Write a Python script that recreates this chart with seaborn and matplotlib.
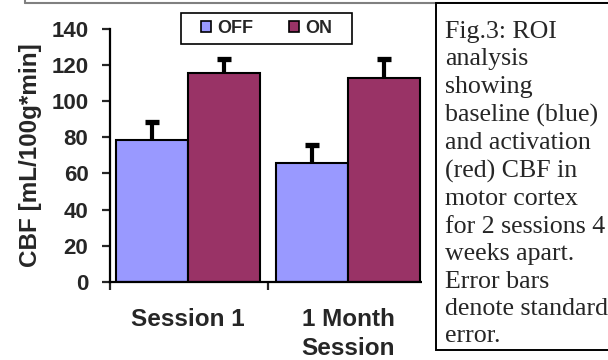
import numpy as np
import pandas as pd
import matplotlib.pyplot as plt
import seaborn as sns
from matplotlib.patches import Rectangle, Patch
from matplotlib.lines import Line2D

sessions = ["Session 1", "1 Month\nSession"]
conditions = ["OFF", "ON"]
off_cbf = [78.5, 65.9]
on_cbf = [115.8, 112.7]
off_err = [10.1, 9.8]
on_err = [7.6, 10.7]
colors = {"OFF": "#9999FF", "ON": "#993366"}
caption = ("Fig.3: ROI\nanalysis\nshowing\nbaseline (blue)\nand activation\n(red) CBF in\n"
           "motor cortex\nfor 2 sessions 4\nweeks apart.\nError bars\ndenote standard\nerror.")

sns.set_style("white")
plt.rcParams["font.family"] = ["Liberation Sans", "DejaVu Sans"]

df = pd.DataFrame({
    "session": sessions * 2,
    "condition": ["OFF"] * 2 + ["ON"] * 2,
    "cbf": off_cbf + on_cbf,
})

W, H = 608, 360
fig = plt.figure(figsize=(W / 100, H / 100), dpi=100)
ax = fig.add_axes([110 / W, 78.3 / H, 316 / W, 252.7 / H])

sns.barplot(data=df, x="session", y="cbf", hue="condition", hue_order=conditions,
            palette=colors, width=0.9, saturation=1, edgecolor="black",
            linewidth=1.5, errorbar=None, legend=False, ax=ax)

# one-sided error bars on top of each bar (only the upper cap)
for cont, err in zip(list(ax.containers), [off_err, on_err]):
    xs = [b.get_x() + b.get_width() / 2 for b in cont]
    hs = [b.get_height() for b in cont]
    eb = ax.errorbar(xs, hs, yerr=[np.zeros(len(err)), err], fmt="none", ecolor="black",
                     elinewidth=3, capsize=4.8, capthick=3.8, zorder=4)
    eb[1][0].set_visible(False)

xmin, xmax = -0.4875, 1.4875
ax.set_xlim(xmin, xmax)
ax.set_ylim(0, 140)
ax.set_yticks(range(0, 141, 20))
ax.set_xlabel("")
ax.set_ylabel("CBF [mL/100g*min]", fontsize=17.5, fontweight="bold", labelpad=7)

sns.despine(ax=ax)
for s in ["left", "bottom"]:
    ax.spines[s].set_linewidth(1.6)
    ax.spines[s].set_color("black")

ax.tick_params(axis="y", direction="out", length=5.5, width=1.6, pad=10, labelsize=16, left=True)
for lab in ax.get_yticklabels():
    lab.set_fontweight("bold")
ax.set_xticks([xmin, 0.5], minor=True)
ax.tick_params(axis="x", which="minor", direction="out", length=5.5, width=1.6, bottom=True)
ax.tick_params(axis="x", which="major", length=0, pad=19, labelsize=17.5)
for lab in ax.get_xticklabels():
    lab.set_fontweight("bold")
    lab.set_linespacing(1.35)

# legend
handles = [Patch(facecolor=colors[c], edgecolor="black", linewidth=1.2, label=c) for c in conditions]
fig.legend(handles=handles, loc="center", bbox_to_anchor=(266.5 / W, 1 - 28.5 / H), ncol=2,
           frameon=False, handlelength=0.55, handleheight=0.55, handletextpad=0.35,
           columnspacing=2.0, prop={"weight": "bold", "size": 13})
fig.add_artist(Rectangle((181 / W, 1 - 44 / H), 171 / W, 31 / H, transform=fig.transFigure,
                         facecolor="none", edgecolor="black", linewidth=1.2))

# page frame line at the top
fig.add_artist(Line2D([25 / W, 1], [1 - 3 / H, 1 - 3 / H], transform=fig.transFigure,
                      color="#808080", linewidth=1.5))
fig.add_artist(Line2D([25 / W, 25 / W], [1 - 3 / H, 1], transform=fig.transFigure,
                      color="#808080", linewidth=1.5))

# caption box covering the right of the chart
fig.add_artist(Rectangle((422 / W, 0), 14 / W, 1 - 172 / H, transform=fig.transFigure,
                         facecolor="white", edgecolor="none", zorder=5))
fig.add_artist(Rectangle((436 / W, 1 - 350 / H), 200 / W, 347 / H, transform=fig.transFigure,
                         facecolor="white", edgecolor="black", linewidth=1.4, zorder=5))
fig.text(445 / W, 1 - 21 / H, caption, ha="left", va="top", fontsize=18.6,
         family="Liberation Serif", linespacing=1.32, zorder=6)

fig.savefig("out.png", dpi=100)
